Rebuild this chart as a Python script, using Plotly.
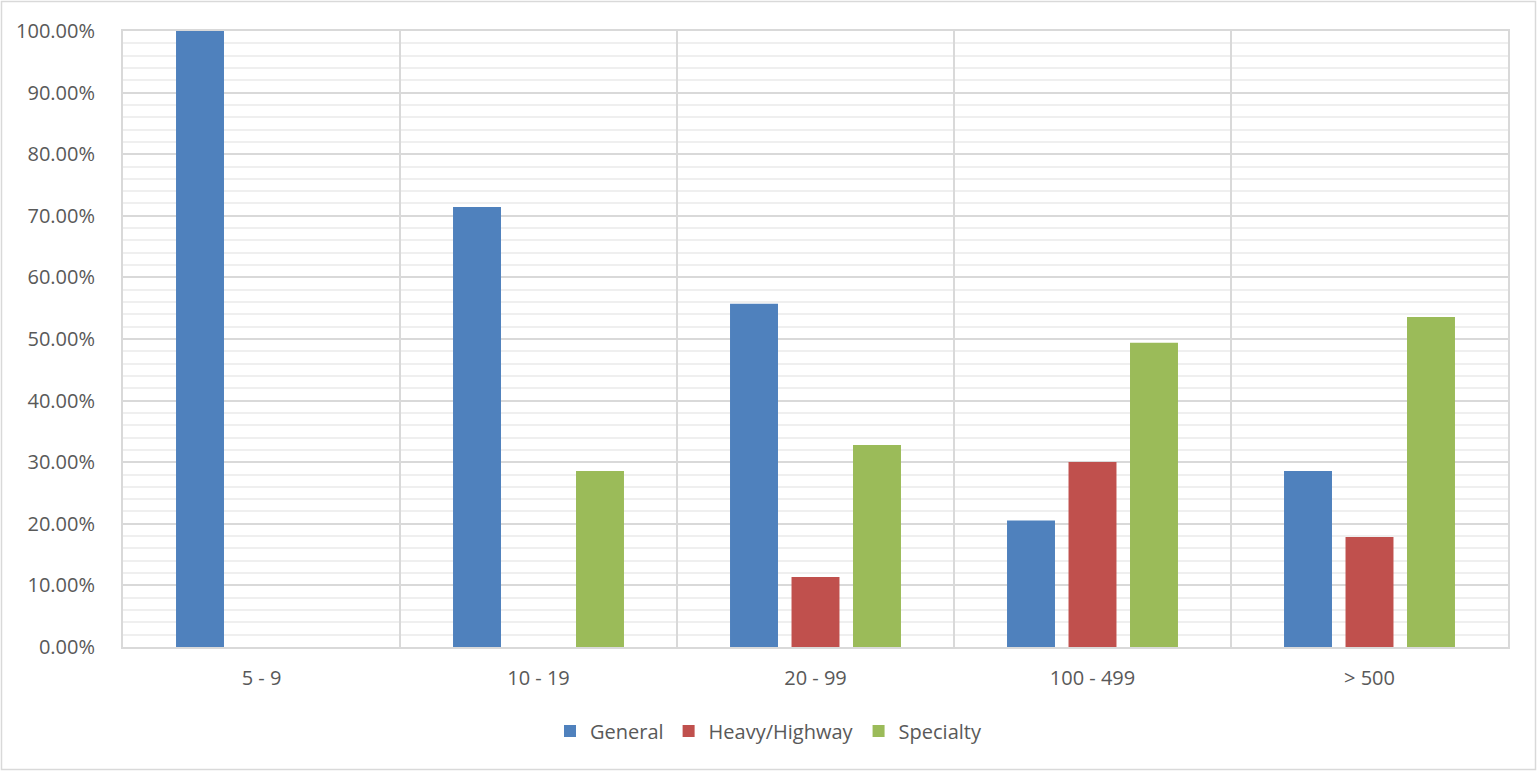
import plotly.graph_objects as go

# Share of contractors by firm size (number of employees)
categories = ["5 - 9", "10 - 19", "20 - 99", "100 - 499", "> 500"]
general = [100.00, 71.43, 55.74, 20.55, 28.57]
heavy_highway = [0.00, 0.00, 11.36, 30.05, 17.86]
specialty = [0.00, 28.57, 32.79, 49.40, 53.57]

series = [
    ("General", general, "#4F81BD"),
    ("Heavy/Highway", heavy_highway, "#C0504D"),
    ("Specialty", specialty, "#9BBB59"),
]

FONT = "Open Sans, Liberation Sans, sans-serif"
TEXT = "#595959"
GRID = "#D9D9D9"
MINOR = "#EFEFEF"

W, H = 1537, 771
L, R, T, B = 123, 29, 31, 124

fig = go.Figure()
for name, vals, color in series:
    fig.add_trace(go.Bar(
        name=name, x=categories, y=vals,
        marker=dict(color=color, line=dict(width=0)),
    ))

pw, ph = W - L - R, H - T - B


def px_x(v):
    return (v - L) / pw


def px_y(v):
    return (H - B - v) / ph


fig.update_layout(
    width=W, height=H,
    margin=dict(l=L, r=R, t=T, b=B, pad=0),
    paper_bgcolor="white", plot_bgcolor="white",
    barmode="group", bargap=0.334, bargroupgap=0.22,
    font=dict(family=FONT, size=20, color=TEXT),
    legend=dict(
        orientation="h", xref="container", yref="container",
        x=0.5, xanchor="center", y=1 - 731 / H, yanchor="middle",
        font=dict(size=20, color=TEXT), itemwidth=30,
        traceorder="normal",
    ),
    xaxis=dict(
        tickson="boundaries", showgrid=True, gridcolor=GRID, gridwidth=2,
        showline=True, linecolor=GRID, linewidth=2, mirror=True,
        ticks="", ticklabelstandoff=12, tickfont=dict(size=20, color=TEXT),
    ),
    yaxis=dict(
        range=[0, 100], dtick=10, tick0=0,
        tickformat=".2f", ticksuffix="%",
        showgrid=True, gridcolor=GRID, gridwidth=2,
        showline=True, linecolor=GRID, linewidth=2, mirror=True,
        zeroline=False, ticks="", ticklabelstandoff=22,
        tickfont=dict(size=20, color=TEXT),
        minor=dict(dtick=2, showgrid=True, gridcolor=MINOR, gridwidth=2),
    ),
    shapes=[dict(
        type="rect", xref="paper", yref="paper",
        x0=px_x(1.5), x1=px_x(W - 1.5), y0=px_y(H - 1.5), y1=px_y(1.5),
        line=dict(color=GRID, width=1.5), fillcolor="rgba(0,0,0,0)",
        layer="below",
    )],
)

fig.write_html("out.html")
